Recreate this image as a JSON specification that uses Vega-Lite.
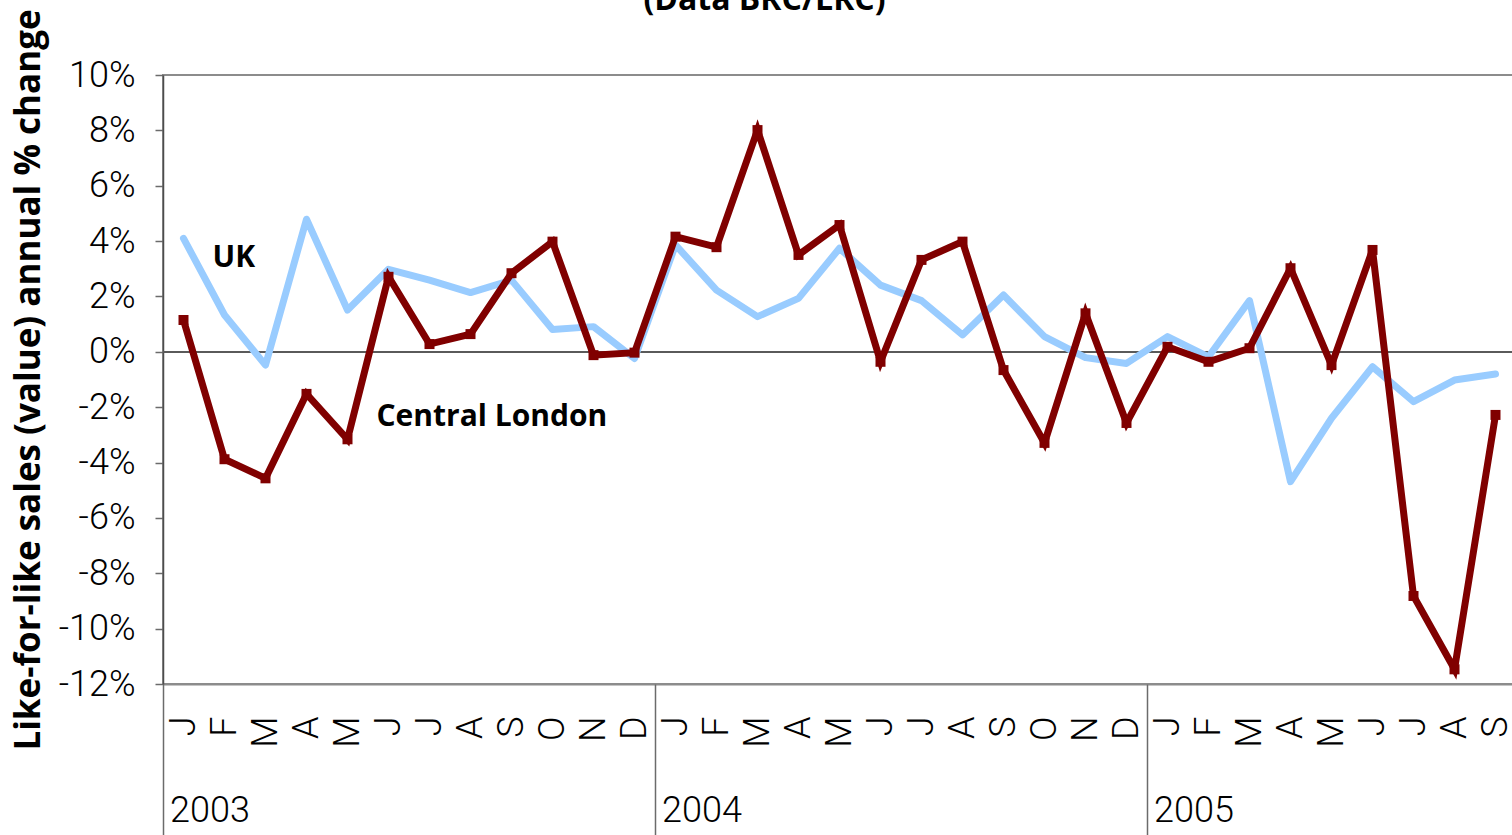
{
  "$schema": "https://vega.github.io/schema/vega-lite/v6.json",
  "autosize": "none",
  "width": 1353,
  "height": 609,
  "padding": {"left": 163, "top": 75, "right": 0, "bottom": 151},
  "background": "white",
  "title": {"text": "(Data BRC/LRC)", "font": "Open Sans", "fontSize": 32, "fontWeight": "bold", "color": "black", "anchor": "middle", "dx": -75, "offset": -8},
  "config": {"view": {"stroke": "#8c8c8c", "strokeWidth": 2}},
  "datasets": {
    "sales": [
      {"month": "2003-01", "UK": 4.1, "CL": 1.15},
      {"month": "2003-02", "UK": 1.33, "CL": -3.88},
      {"month": "2003-03", "UK": -0.48, "CL": -4.57},
      {"month": "2003-04", "UK": 4.79, "CL": -1.52},
      {"month": "2003-05", "UK": 1.51, "CL": -3.16},
      {"month": "2003-06", "UK": 2.98, "CL": 2.71},
      {"month": "2003-07", "UK": 2.59, "CL": 0.28},
      {"month": "2003-08", "UK": 2.14, "CL": 0.64},
      {"month": "2003-09", "UK": 2.59, "CL": 2.84},
      {"month": "2003-10", "UK": 0.81, "CL": 3.98},
      {"month": "2003-11", "UK": 0.91, "CL": -0.12},
      {"month": "2003-12", "UK": -0.24, "CL": -0.03},
      {"month": "2004-01", "UK": 3.86, "CL": 4.16},
      {"month": "2004-02", "UK": 2.23, "CL": 3.78},
      {"month": "2004-03", "UK": 1.27, "CL": 8.01},
      {"month": "2004-04", "UK": 1.93, "CL": 3.5},
      {"month": "2004-05", "UK": 3.74, "CL": 4.58},
      {"month": "2004-06", "UK": 2.41, "CL": -0.36},
      {"month": "2004-07", "UK": 1.85, "CL": 3.32},
      {"month": "2004-08", "UK": 0.61, "CL": 3.98},
      {"month": "2004-09", "UK": 2.05, "CL": -0.66},
      {"month": "2004-10", "UK": 0.55, "CL": -3.29},
      {"month": "2004-11", "UK": -0.21, "CL": 1.39},
      {"month": "2004-12", "UK": -0.42, "CL": -2.57},
      {"month": "2005-01", "UK": 0.55, "CL": 0.18},
      {"month": "2005-02", "UK": -0.18, "CL": -0.36},
      {"month": "2005-03", "UK": 1.85, "CL": 0.13},
      {"month": "2005-04", "UK": -4.69, "CL": 3.02},
      {"month": "2005-05", "UK": -2.4, "CL": -0.48},
      {"month": "2005-06", "UK": -0.54, "CL": 3.68},
      {"month": "2005-07", "UK": -1.8, "CL": -8.82},
      {"month": "2005-08", "UK": -1.02, "CL": -11.47},
      {"month": "2005-09", "UK": -0.8, "CL": -2.28}
    ],
    "labels": [
      {"month": "2003-02", "value": 3.39, "label": "UK"},
      {"month": "2003-06", "value": -2.37, "label": "Central London"}
    ]
  },
  "data": {"name": "sales"},
  "resolve": {"axis": {"x": "independent"}},
  "layer": [
    {
      "mark": {"type": "rule", "color": "#5a5a5a", "strokeWidth": 1.5},
      "encoding": {
        "y": {"datum": 0, "type": "quantitative", "scale": {"domain": [-12, 10], "nice": false, "zero": false},
          "axis": {"values": [-12, -10, -8, -6, -4, -2, 0, 2, 4, 6, 8, 10], "labelExpr": "datum.value + '%'", "grid": false,
            "domainColor": "#4d4d4d", "domainWidth": 1.5, "tickColor": "#6b6b6b", "tickWidth": 1.5, "tickSize": 8,
            "labelFont": "Roboto", "labelFontSize": 36, "labelFontWeight": 300, "labelColor": "black", "labelPadding": 20,
            "title": "Like-for-like sales (value) annual % change", "titleFont": "Open Sans", "titleFontSize": 35,
            "titleFontWeight": "bold", "titleColor": "black", "titlePadding": 12}}
      }
    },
    {
      "mark": {"type": "line", "color": "#99ccff", "strokeWidth": 7, "strokeCap": "round", "strokeJoin": "round"},
      "encoding": {
        "x": {"field": "month", "type": "ordinal", "scale": {"type": "band", "paddingInner": 0, "paddingOuter": 0},
          "axis": {"orient": "bottom", "labelExpr": "['J','F','M','A','M','J','J','A','S','O','N','D'][toNumber(slice(datum.value, 5)) - 1]",
            "labelAngle": 270, "labelAlign": "right", "labelBaseline": "middle", "labelOverlap": false, "ticks": false, "tickSize": 0,
            "labelPadding": 32, "labelFont": "Roboto", "labelFontSize": 36, "labelFontWeight": 300, "labelColor": "black",
            "domainColor": "#8c8c8c", "domainWidth": 2, "title": null}},
        "y": {"field": "UK", "type": "quantitative"}
      }
    },
    {
      "mark": {"type": "line", "color": "#800000", "strokeWidth": 7, "strokeJoin": "miter"},
      "encoding": {
        "x": {"field": "month", "type": "ordinal",
          "axis": {"orient": "bottom", "values": ["2003-01", "2004-01", "2005-01"], "labelExpr": "slice(datum.value, 0, 4)",
            "labelAngle": 0, "labelAlign": "left", "labelBaseline": "top", "bandPosition": 0, "labelOffset": -13.5,
            "tickSize": 151, "tickColor": "#6b6b6b", "tickWidth": 1.5, "labelPadding": -42, "domain": false,
            "labelFont": "Roboto", "labelFontSize": 36, "labelFontWeight": 300, "labelColor": "black", "title": null}},
        "y": {"field": "CL", "type": "quantitative"}
      }
    },
    {
      "mark": {"type": "point", "shape": "square", "filled": true, "color": "#800000", "size": 100, "opacity": 1},
      "encoding": {
        "x": {"field": "month", "type": "ordinal", "axis": null},
        "y": {"field": "CL", "type": "quantitative"}
      }
    },
    {
      "data": {"name": "labels"},
      "mark": {"type": "text", "font": "Open Sans", "fontSize": 30, "fontWeight": "bold", "color": "black", "align": "left", "baseline": "middle", "dx": -12},
      "encoding": {
        "x": {"field": "month", "type": "ordinal", "axis": null},
        "y": {"field": "value", "type": "quantitative"},
        "text": {"field": "label"}
      }
    }
  ]
}
